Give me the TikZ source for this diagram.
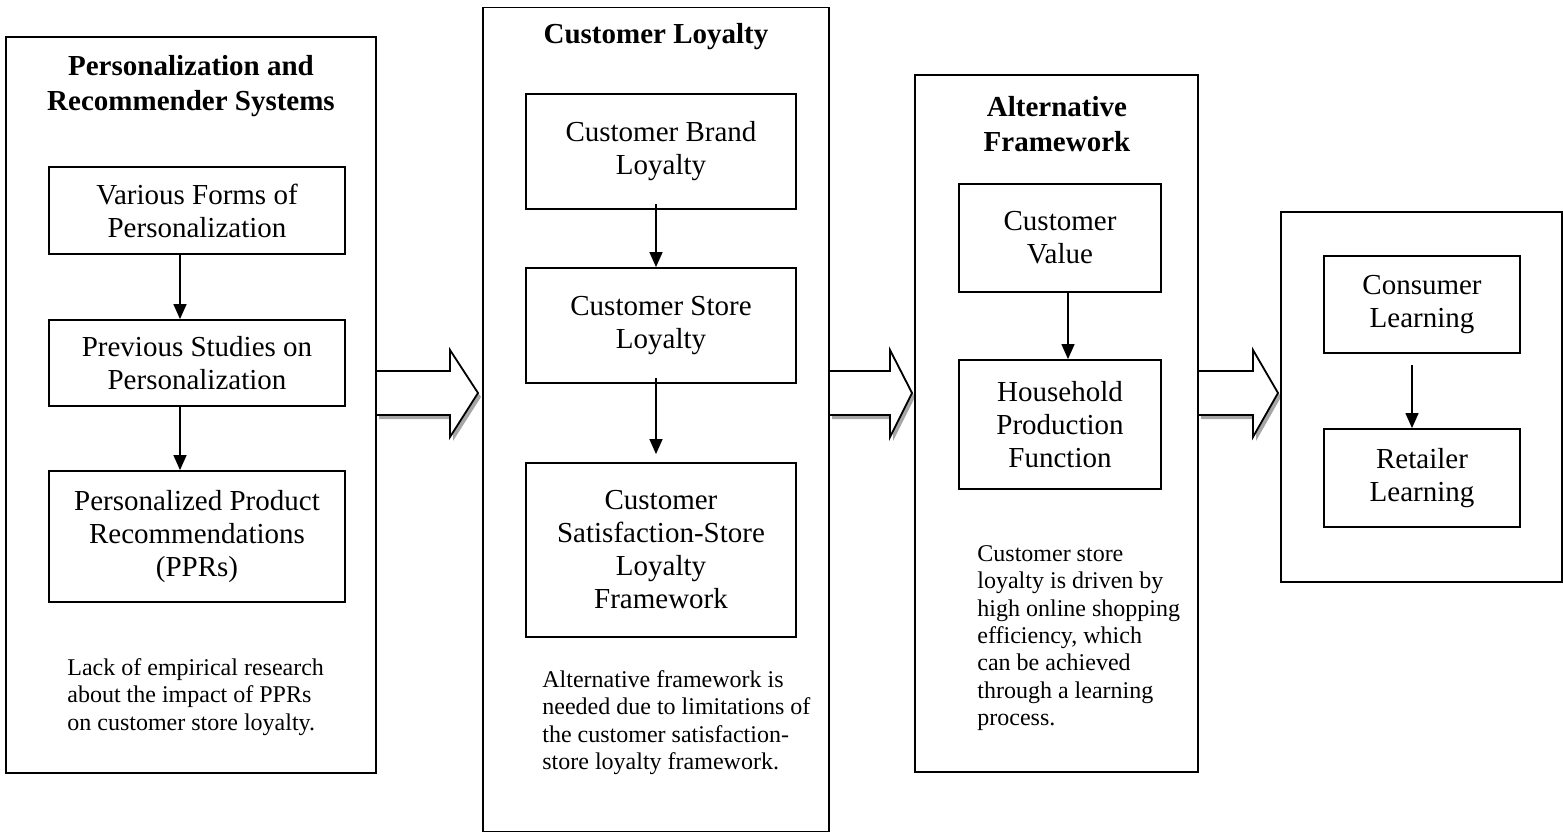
\documentclass[tikz,border=0pt]{standalone}
\usepackage{fontspec}
\setmainfont{Liberation Serif}
\usetikzlibrary{arrows.meta}

\tikzset{
  frame/.style={draw, line width=0.9pt, inner sep=0pt},
  inbox/.style={draw, line width=0.9pt, align=center, inner sep=0pt,
    font=\fontsize{14.5}{16.5}\selectfont},
  heading/.style={align=center, font=\bfseries\fontsize{14.5}{17.5}\selectfont},
  note/.style={align=left, anchor=north west, inner sep=0pt,
    font=\fontsize{12}{13.7}\selectfont},
  arr/.style={-{Triangle[width=6.5pt,length=7.5pt]}, line width=0.7pt},
  bigarrow/.style={fill=white, draw=black, line width=0.9pt, line join=miter},
}

% fat arrow between two frames: start x, neck x, tip x
\newcommand{\fatarrow}[3]{%
  \fill[gray!70, shift={(3,4)}] (#1,371) -- (#2,371) -- (#2,350) -- (#3,393)
    -- (#2,437) -- (#2,415) -- (#1,415) -- cycle;
  \draw[bigarrow] (#1,371) -- (#2,371) -- (#2,350) -- (#3,393)
    -- (#2,437) -- (#2,415) -- (#1,415) -- cycle;
}

\begin{document}
\begin{tikzpicture}[x=0.5pt, y=-0.5pt]
  \useasboundingbox (0,0) rectangle (1563,834);

  % fat arrows
  \fatarrow{376}{450}{478}
  \fatarrow{829}{890}{912}
  \fatarrow{1198}{1253}{1278}

  % frames
  \node[frame, minimum width=185pt, minimum height=368pt] (f1) at (191,405) {};
  \node[frame, minimum width=173pt, minimum height=412pt] (f2) at (656,419.5) {};
  \node[frame, minimum width=141.5pt, minimum height=348.5pt] (f3) at (1056.5,423.5) {};
  \node[frame, minimum width=140.5pt, minimum height=185pt] (f4) at (1421.5,397) {};

  % headings
  \node[heading] (t1) at (191,86) {Personalization and\\Recommender Systems};
  \node[heading] (t2) at (656,37) {Customer Loyalty};
  \node[heading] (t3) at (1057,124) {Alternative\\Framework};

  % first frame
  \node[inbox, minimum width=148pt, minimum height=43.5pt] (vf) at (197,210.5)
    {Various Forms of\\Personalization};
  \node[inbox, minimum width=148pt, minimum height=43pt] (ps) at (197,363)
    {Previous Studies on\\Personalization};
  \node[inbox, minimum width=148pt, minimum height=65.5pt] (pp) at (197,536.5)
    {Personalized Product\\Recommendations\\(PPRs)};
  \draw[arr] ([xshift=-8.5pt]vf.south) -- ([xshift=-8.5pt]ps.north);
  \draw[arr] ([xshift=-8.5pt]ps.south) -- ([xshift=-8.5pt]pp.north);

  % second frame
  \node[inbox, minimum width=135pt, minimum height=57.5pt] (bl) at (661,151.5)
    {Customer Brand\\Loyalty};
  \node[inbox, minimum width=135pt, minimum height=57.5pt] (sl) at (661,325.5)
    {Customer Store\\Loyalty};
  \node[inbox, minimum width=135pt, minimum height=87pt] (sf) at (661,550)
    {Customer\\Satisfaction-Store\\Loyalty\\Framework};
  \draw[arr] ([xshift=-2.5pt,yshift=3pt]bl.south) -- ([xshift=-2.5pt]sl.north);
  \draw[arr] ([xshift=-2.5pt,yshift=3pt]sl.south) -- ([xshift=-2.5pt,yshift=4pt]sf.north);

  % third frame
  \node[inbox, minimum width=101pt, minimum height=54pt] (cv) at (1060,238)
    {Customer\\Value};
  \node[inbox, minimum width=101pt, minimum height=64.5pt] (hp) at (1060,424.5)
    {Household\\Production\\Function};
  \draw[arr] ([xshift=4pt]cv.south) -- ([xshift=4pt]hp.north);

  % fourth frame
  \node[inbox, minimum width=98pt, minimum height=48.5pt] (cl) at (1422,304.5)
    {Consumer\\Learning};
  \node[inbox, minimum width=98pt, minimum height=49pt] (rl) at (1422,478)
    {Retailer\\Learning};
  \draw[arr] ([xshift=-5pt,yshift=-5.5pt]cl.south) -- ([xshift=-5pt]rl.north);

  % notes
  \node[note] (n1) at (67,658) {Lack of empirical research\\about the impact of PPRs\\on customer store loyalty.};
  \node[note] (n2) at (542,670) {Alternative framework is\\needed due to limitations of\\the customer satisfaction-\\store loyalty framework.};
  \node[note] (n3) at (977,545) {Customer store\\loyalty is driven by\\high online shopping\\efficiency, which\\can be achieved\\through a learning\\process.};
\end{tikzpicture}
\end{document}
